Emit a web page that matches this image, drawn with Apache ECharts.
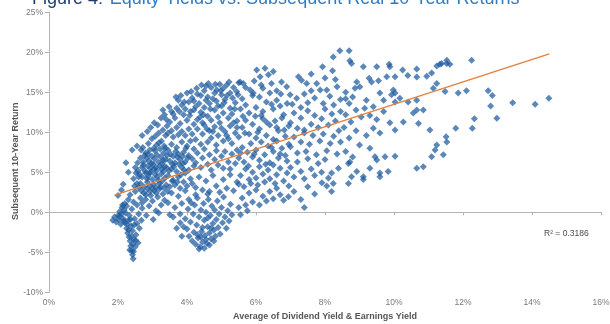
<!DOCTYPE html>
<html>
<head>
<meta charset="utf-8">
<script src="https://cdn.jsdelivr.net/npm/echarts@6/dist/echarts.min.js"></script>
<style>
  html, body { margin: 0; padding: 0; background: #ffffff; }
  #chart { width: 610px; height: 324px; }
</style>
</head>
<body>
<div id="chart"></div>
<script>
// Average of dividend & earnings yield (%) vs subsequent real 10-year return (%)

// Low-yield periods: the left edge and the drop below zero near 2-2.7%
const lowYieldTail = [
  [1.85,-1.0],[1.9,-0.6],[1.95,-1.2],[2.0,-0.4],[2.02,-0.9],[2.05,0.1],[2.08,-1.5],[2.1,-0.2],[2.12,0.6],[2.15,-0.8],
  [2.18,0.3],[2.2,-1.3],[2.2,1.1],[2.22,-0.1],[2.25,-2.0],[2.25,0.8],[2.28,-2.6],[2.3,-1.0],[2.3,1.6],[2.32,-3.1],
  [2.33,-0.4],[2.35,-3.6],[2.35,2.2],[2.37,-4.2],[2.38,-1.7],[2.4,-4.8],[2.4,0.4],[2.42,-5.3],[2.42,-2.3],[2.44,-5.8],
  [2.45,1.3],[2.46,-3.4],[2.48,-0.8],[2.5,-4.3],[2.5,2.6],[2.52,-2.8],[2.55,-1.4],[2.55,0.9],[2.58,-3.8],[2.6,-0.2],
  [2.6,3.1],[2.62,-2.0],[2.65,1.8],[2.68,-1.0],[2.7,0.5],
  [2.0,2.1],[2.1,2.8],[2.15,3.5],[2.23,6.2],[2.41,7.8],[2.45,4.2],[2.3,5.0],[2.55,8.3],[2.67,7.8],[2.5,5.6],
  [2.65,6.8],[2.7,9.6],
  [2.27,-1.5],[2.31,-2.2],[2.36,-0.9],[2.39,-3.0],[2.43,-4.0],[2.47,-1.6],[2.51,-3.5],[2.34,-4.7],[2.45,-4.9],[2.05,-0.5],
  [2.17,-1.1],[2.13,0.9]
];

// Dense core between 2.6% and 4.3%
const coreCluster = [
  [2.7,1.2],[2.75,2.4],[2.8,1.6],[2.85,2.9],[2.9,0.8],[2.95,2.1],[3.0,1.4],[3.05,2.7],[3.1,0.2],[3.15,1.9],
  [3.2,2.9],[3.25,0.9],[3.3,2.3],[3.35,1.5],[2.82,-0.4],[3.02,-0.9],[3.18,-0.1],
  [2.65,3.6],[2.7,4.4],[2.75,3.2],[2.8,4.9],[2.85,3.8],[2.88,4.5],[2.92,3.3],[2.95,5.0],[3.0,4.1],[3.03,3.5],
  [3.08,4.7],[3.1,3.1],[3.12,5.2],[3.17,4.0],[3.2,3.6],[3.25,4.8],[3.28,3.9],[3.32,5.1],[3.36,4.3],[3.4,3.4],
  [2.7,5.6],[2.74,6.3],[2.78,5.2],[2.83,6.8],[2.86,5.8],[2.9,6.4],[2.94,5.5],[2.98,7.0],[3.02,6.0],[3.06,6.7],
  [3.1,5.6],[3.13,7.2],[3.17,6.3],[3.21,5.8],[3.24,6.9],[3.28,6.1],[3.32,7.4],[3.35,5.7],[3.38,6.6],[3.42,7.1],
  [2.72,8.1],[2.8,7.4],[2.88,8.6],[2.92,7.8],[2.98,9.2],[3.04,8.0],[3.08,9.5],[3.12,8.4],[3.18,9.9],[3.22,7.9],
  [3.26,8.9],[3.3,10.3],[3.34,8.3],[3.38,9.6],[3.42,10.8],
  [2.95,10.6],[3.05,11.2],[3.15,10.9],[3.25,11.8],[3.35,12.2],[2.85,10.1],
  [3.45,1.2],[3.55,2.4],[3.65,0.6],[3.75,2.0],[3.85,1.1],[3.95,2.7],[4.05,1.6],[3.6,-0.6],[3.8,-1.3],[3.5,-0.3],
  [3.45,4.6],[3.5,3.2],[3.55,5.4],[3.6,4.0],[3.65,3.4],[3.7,5.1],[3.75,4.4],[3.8,3.0],[3.85,5.6],[3.9,3.8],
  [3.95,4.9],[4.0,3.3],[4.05,5.3],[4.1,4.2],[4.15,3.6],[4.2,5.8],
  [3.45,7.8],[3.5,6.4],[3.55,8.5],[3.6,7.0],[3.65,6.2],[3.7,8.1],[3.75,7.3],[3.8,6.6],[3.85,8.8],[3.9,7.5],
  [3.95,6.3],[4.0,8.3],[4.05,7.1],[4.1,8.9],[4.15,6.7],[4.2,7.9],[3.58,6.0],[3.72,6.9],[3.88,6.1],[4.02,6.8],
  [3.45,9.9],[3.5,11.3],[3.55,10.2],[3.6,9.4],[3.65,11.8],[3.7,10.6],[3.75,9.7],[3.8,11.1],[3.85,10.1],[3.9,12.2],
  [3.95,9.6],[4.0,11.5],[4.05,10.4],[4.1,12.6],[4.15,9.8],[4.2,11.0],
  [3.55,12.6],[3.7,13.0],[3.85,13.4],[3.95,12.9],[4.05,13.8],[4.15,14.3],[4.25,13.2],[4.3,14.8],[3.75,14.0],
  [2.62,4.8],[2.68,2.7],[2.73,5.9],[2.77,7.1],[2.81,2.2],[2.84,4.2],[2.87,7.3],[2.91,4.9],[2.93,2.6],[2.97,6.1],
  [3.0,3.0],[3.04,5.4],[3.07,7.7],[3.11,2.4],[3.14,4.4],[3.19,8.7],[3.23,3.2],[3.27,5.4],[3.31,6.5],[3.34,3.0],
  [3.37,8.0],[3.41,5.6],[3.44,2.6],[3.48,5.2],[3.52,7.3],[3.57,3.9],[3.62,5.7],[3.67,7.6],[3.72,3.8],[3.77,6.0],
  [3.82,4.7],[3.87,7.0],[3.92,5.3],[3.97,8.0],[2.58,5.2],[2.6,4.4],[2.55,3.6],[2.48,3.3],[2.52,4.9],[2.57,6.2]
];

// Negative-return pocket around 4-5%
const lowReturnBlob = [
  [3.95,-0.8],[4.0,-2.1],[4.03,0.4],[4.06,-3.0],[4.1,-1.2],[4.12,1.2],[4.15,-3.6],[4.18,-0.2],[4.2,-2.5],[4.22,0.9],
  [4.25,-4.0],[4.28,-1.6],[4.3,1.8],[4.32,-3.2],[4.35,-0.6],[4.38,-4.3],[4.4,0.3],[4.42,-2.4],[4.45,-3.7],[4.48,1.1],
  [4.5,-1.0],[4.52,-2.9],[4.55,0.0],[4.58,-3.9],[4.6,-1.8],[4.62,1.6],[4.65,-2.6],[4.68,-0.4],[4.7,-3.3],[4.72,0.8],
  [4.75,-1.4],[4.78,-2.2],[4.8,0.3],[4.82,-3.0],[4.85,-0.9],[4.88,1.4],[4.9,-1.9],[4.93,-0.2],[4.96,-2.7],[5.0,0.6],
  [5.03,-1.3],[5.06,1.9],[5.1,-0.6],[5.14,-2.0],[5.18,0.2],[5.22,-1.1],[5.26,1.0],[5.3,-0.3],[4.35,-4.6],[4.5,-4.5],
  [4.25,2.2],[4.6,2.3],[4.4,-3.1],[4.55,-3.4],[4.65,-4.1],[4.45,-1.9],[4.7,-2.0],[4.3,-2.8],[4.6,-0.7],[4.78,-3.6],
  [3.7,-2.0],[3.85,-3.0],[3.9,-1.8],[3.8,-0.2]
];

// Middle yields, 4.2% to 7%
const midYield = [
  [4.25,3.1],[4.35,4.4],[4.45,2.8],[4.55,3.9],[4.65,2.6],[4.75,4.6],[4.85,3.3],[4.95,2.5],[5.05,4.1],[5.15,3.0],
  [5.25,4.7],[5.35,2.7],[5.45,3.8],
  [4.25,6.2],[4.3,7.4],[4.4,5.6],[4.45,6.8],[4.5,7.9],[4.6,6.0],[4.65,7.2],[4.7,5.3],[4.8,6.6],[4.85,7.7],[4.9,5.9],
  [5.0,7.0],[5.05,5.5],[5.1,7.6],[5.2,6.3],[5.25,5.4],[5.3,7.3],[5.4,6.1],[5.45,7.8],
  [4.25,9.1],[4.3,10.4],[4.4,8.5],[4.45,9.8],[4.5,10.9],[4.6,8.8],[4.65,10.2],[4.7,9.3],[4.8,10.7],[4.85,8.4],
  [4.9,9.6],[5.0,10.5],[5.05,8.9],[5.1,10.1],[5.2,9.2],[5.25,10.8],[5.3,8.6],[5.4,9.9],[5.45,10.6],
  [4.3,11.6],[4.4,12.5],[4.45,11.2],[4.5,13.1],[4.6,12.0],[4.65,13.6],[4.7,11.5],[4.8,12.8],[4.85,13.9],[4.9,11.9],
  [5.0,13.3],[5.05,12.4],[5.1,14.1],[5.2,11.8],[5.25,13.0],[5.3,12.3],[5.4,13.7],[5.45,11.4],
  [4.4,14.6],[4.5,15.2],[4.6,14.4],[4.7,15.6],[4.8,14.9],[4.86,15.3],[5.05,15.5],[5.0,14.7],[5.15,15.9],[5.25,14.9],
  [5.35,15.6],[5.44,15.1],[5.5,16.2],[4.55,15.8],[4.95,16.0],
  [3.3,12.8],[3.4,11.6],[3.48,13.2],[3.6,12.3],[3.68,14.4],[3.78,12.6],[3.82,14.6],[3.92,13.8],[4.0,14.9],[4.08,12.1],
  [4.12,15.1],[4.2,12.8],[4.28,15.5],[4.35,13.6],[4.42,15.9],[4.48,12.2],[4.55,14.0],[4.62,16.1],[4.68,12.9],[4.75,14.2],
  [4.82,16.0],[4.9,13.3],[4.98,15.2],[5.08,13.7],[5.16,14.6],[5.22,16.3],[5.32,14.3],[5.38,12.9],[5.48,14.7],[4.2,13.9],
  [4.38,11.9],[4.58,10.4],[4.75,10.1],[4.95,11.2],
  [5.5,0.6],[5.6,1.8],[5.7,0.9],[5.8,2.4],[5.9,1.3],[6.0,2.8],[6.1,0.9],[6.2,2.0],[6.3,1.4],[6.4,2.6],
  [6.5,1.7],[6.6,3.0],[6.7,2.2],[6.8,1.5],[6.94,1.95],[5.55,-0.3],[5.75,0.2],
  [5.5,3.5],[5.55,4.6],[5.65,3.2],[5.7,5.4],[5.8,4.1],[5.85,3.6],[5.9,5.0],[6.0,4.3],[6.05,3.4],[6.1,5.7],
  [6.2,4.8],[6.25,3.8],[6.35,5.3],[6.4,4.2],[6.5,5.9],[6.55,3.6],[6.6,4.7],[6.7,5.5],[6.8,3.9],[6.9,4.9],[6.95,3.3],
  [5.5,6.8],[5.6,8.1],[5.65,6.3],[5.75,7.5],[5.85,8.6],[5.9,6.9],[6.0,7.8],[6.1,6.5],[6.15,8.8],[6.25,7.2],
  [6.35,8.3],[6.4,6.2],[6.5,7.6],[6.6,8.9],[6.65,6.8],[6.75,8.0],[6.85,7.1],[6.95,8.5],
  [5.5,9.4],[5.6,10.6],[5.7,11.5],[5.8,9.8],[5.9,11.0],[6.0,9.3],[6.1,10.4],[6.2,11.7],[6.3,9.6],[6.4,10.9],
  [6.5,9.1],[6.55,11.4],[6.65,10.2],[6.75,11.8],[6.85,9.5],[6.95,10.8],
  [5.55,12.9],[5.6,14.2],[5.7,13.4],[5.8,12.4],[5.83,15.3],[5.9,14.6],[5.92,14.9],[6.0,13.1],[6.1,14.4],[6.2,12.6],
  [6.3,13.8],[6.4,14.9],[6.5,12.9],[6.6,14.0],[6.7,13.3],[6.8,12.2],[6.99,14.7],[6.9,13.6],
  [5.54,16.3],[5.63,16.1],[5.7,15.6],[6.02,17.8],[6.12,16.95],[6.26,18.0],[6.36,17.2],[6.45,16.1],[6.5,17.6],[6.74,16.3],
  [6.89,15.7],[6.2,15.5],[5.95,16.4],[6.6,15.2],
  [5.15,9.6],[5.35,11.2],[5.55,7.4],[5.68,9.9],[5.78,5.8],[5.95,7.3],[6.05,10.0],[6.15,12.1],[6.28,6.0],[6.45,8.1],
  [6.6,10.6],[6.7,7.3],[6.82,10.3],[6.9,6.4],[5.98,12.0],[6.3,11.3],[5.62,12.0],[6.45,13.5],[6.72,14.8],[6.15,15.9]
];

// Higher yields, 7% and up (sparser)
const highYield = [
  [7.1,2.6],[7.3,1.6],[7.5,3.2],[7.7,2.3],[7.91,3.7],[8.05,3.3],[8.19,2.6],[8.24,3.6],[7.4,0.6],
  [7.0,5.6],[7.1,4.4],[7.2,6.3],[7.3,5.1],[7.4,4.2],[7.5,6.7],[7.6,5.4],[7.7,4.6],[7.8,6.1],[7.9,5.0],[8.0,6.6],
  [8.19,4.9],[8.39,5.5],[8.1,4.3],
  [7.0,8.2],[7.1,9.4],[7.2,7.4],[7.3,8.8],[7.4,9.9],[7.45,7.6],[7.55,8.5],[7.65,9.6],[7.75,7.2],[7.85,8.9],
  [7.95,9.8],[8.05,7.7],[8.15,8.6],[8.25,9.5],[8.35,7.3],[8.45,8.8],
  [7.0,11.2],[7.1,12.4],[7.2,10.5],[7.3,11.8],[7.4,10.3],[7.5,12.7],[7.6,11.0],[7.7,12.1],[7.8,10.6],[7.9,11.7],
  [8.0,12.9],[8.1,10.9],[8.2,12.3],[8.3,11.4],[8.4,10.2],[8.45,12.6],
  [7.05,13.5],[7.18,14.25],[7.3,13.1],[7.4,14.8],[7.5,13.7],[7.6,15.2],[7.7,14.3],[7.76,16.1],[7.86,15.3],[8.05,15.3],
  [8.14,14.5],[8.25,13.4],[8.35,15.7],[8.45,14.1],[7.95,13.6],
  [7.23,16.95],[7.32,16.5],[7.47,16.1],[7.93,18.2],[8.22,17.7],[8.24,19.4],[8.43,20.2],[7.6,17.3],[8.0,16.8],[8.3,16.6],
  [8.7,20.2],[8.72,18.95],[8.77,18.6],[9.11,18.2],[9.5,18.2],[9.86,18.5],[9.88,18.2],[8.92,16.3],[8.87,15.5],[9.01,15.7],
  [9.28,16.75],[9.35,16.3],[9.55,16.45],[9.79,16.95],[9.59,14.9],[9.98,15.3],[8.6,15.0],[8.7,13.6],[8.8,14.4],[9.2,14.0],
  [9.4,13.2],[8.6,12.2],[8.75,11.3],[8.9,12.8],[9.05,11.9],[9.15,13.0],[9.3,12.1],[9.5,11.6],[9.7,12.6],[9.88,11.2],
  [9.59,9.9],[9.4,10.5],[9.2,9.6],[8.9,10.2],[8.7,9.3],[8.55,10.6],[9.0,8.4],[9.3,8.0],[8.6,7.6],[8.8,6.9],
  [8.68,6.1],[8.72,6.3],[9.45,6.95],[9.5,6.55],[9.74,6.95],[9.3,5.5],[8.92,5.1],[9.11,4.45],[8.77,4.45],[8.68,3.6],
  [9.11,4.1],[9.59,4.45],[9.59,4.9],[9.83,5.1],[8.6,14.2],[9.7,14.0],
  [10.03,16.95],[10.4,17.1],[10.66,16.9],[10.95,17.0],[11.09,17.4],[10.25,17.8],[10.66,17.9],[11.24,18.3],[11.33,18.5],[11.53,18.6],
  [11.38,18.6],[11.53,19.0],[11.62,18.5],[12.25,19.0],[10.03,14.9],[9.93,14.7],[10.17,14.25],[10.03,13.8],[10.41,13.8],[10.66,14.0],
  [10.66,12.8],[10.56,12.4],[10.85,12.8],[11.24,16.1],[11.14,15.5],[11.48,15.1],[11.86,14.9],[12.1,15.2],[12.73,15.2],[12.85,14.6],
  [12.8,13.3],[13.44,13.7],[14.09,13.5],[14.49,14.25],[12.33,11.7],[12.98,11.75],[11.79,10.5],[12.27,10.5],[11.04,10.3],[10.71,11.1],
  [11.51,9.45],[11.53,8.8],[11.24,8.4],[11.19,7.8],[11.43,7.2],[11.09,6.95],[10.66,5.5],[10.85,5.7],[10.03,10.3],[10.27,11.3],
  [10.03,7.0]
];

// Linear trend line end points and fit statistic
const trendX = [1.9, 14.5];
const trendY = [2.15, 19.8];
const rSquared = '0.3186';

const titleLead = 'Figure 4:';
const titleMain = 'Equity Yields vs. Subsequent Real 10-Year Returns';

const allPoints = lowYieldTail.concat(coreCluster, lowReturnBlob, midYield, highYield);
const trendLine = trendX.map((x, i) => [x, trendY[i]]);

const font = '"Liberation Sans", Arial, sans-serif';
const axisGray = '#b5b5b5';

const chart = echarts.init(document.getElementById('chart'), null, { renderer: 'canvas' });
chart.setOption({
  animation: false,
  backgroundColor: '#ffffff',
  grid: { left: 49, right: 9, top: 12.3, bottom: 31.7, containLabel: false, outerBoundsMode: 'none' },
  xAxis: [
    {
      // labels and title along the bottom edge
      type: 'value', min: 0, max: 16, interval: 2, position: 'bottom',
      axisLine: { show: false, onZero: false },
      axisTick: { show: false },
      axisLabel: { margin: 6, formatter: '{value}%', color: '#7a7a7a', fontSize: 8.5, fontFamily: font },
      splitLine: { show: false },
      name: 'Average of Dividend Yield & Earnings Yield',
      nameLocation: 'middle', nameGap: 19,
      nameTextStyle: { color: '#555', fontSize: 9, fontWeight: 'bold', fontFamily: font }
    },
    {
      // axis line crossing at 0%
      type: 'value', min: 0, max: 16, interval: 2, position: 'top',
      axisLine: { show: true, onZero: true, lineStyle: { color: axisGray, width: 1 } },
      axisTick: { show: true, inside: true, length: 3, lineStyle: { color: axisGray } },
      axisLabel: { show: false },
      splitLine: { show: false }
    }
  ],
  yAxis: {
    type: 'value', min: -10, max: 25, interval: 5,
    axisLine: { show: true, onZero: false, lineStyle: { color: axisGray, width: 1 } },
    axisTick: { show: true, length: 4, lineStyle: { color: axisGray } },
    axisLabel: { margin: 6, formatter: '{value}%', color: '#7a7a7a', fontSize: 8.5, fontFamily: font },
    splitLine: { show: false },
    name: 'Subsequent 10-Year Return',
    nameLocation: 'middle', nameGap: 29, nameMoveOverlap: false,
    nameTextStyle: { color: '#555', fontSize: 9, fontWeight: 'bold', fontFamily: font, padding: [0, 0, 0, -18] }
  },
  series: [
    {
      type: 'scatter',
      data: allPoints,
      symbol: 'diamond',
      symbolSize: 7,
      itemStyle: { color: '#1c5a9e', opacity: 0.72 },
      z: 2
    },
    {
      type: 'line',
      data: trendLine,
      showSymbol: false,
      symbol: 'none',
      lineStyle: { color: '#e3813f', width: 1.5 },
      z: 3
    }
  ],
  graphic: [
    {
      type: 'text', left: 32, top: -10,
      style: {
        text: '{a|' + titleLead + '}  {b|' + titleMain + '}',
        rich: {
          a: { fontSize: 18, fontFamily: font, fill: '#1f3c6e', color: '#1f3c6e' },
          b: { fontSize: 18, fontFamily: font, fill: '#2f7bc2', color: '#2f7bc2' }
        }
      }
    },
    {
      type: 'text', left: 544, top: 229,
      style: { text: 'R² = ' + rSquared, fontSize: 8.5, fontFamily: font, fill: '#4a4a4a' }
    }
  ]
});
</script>
</body>
</html>
